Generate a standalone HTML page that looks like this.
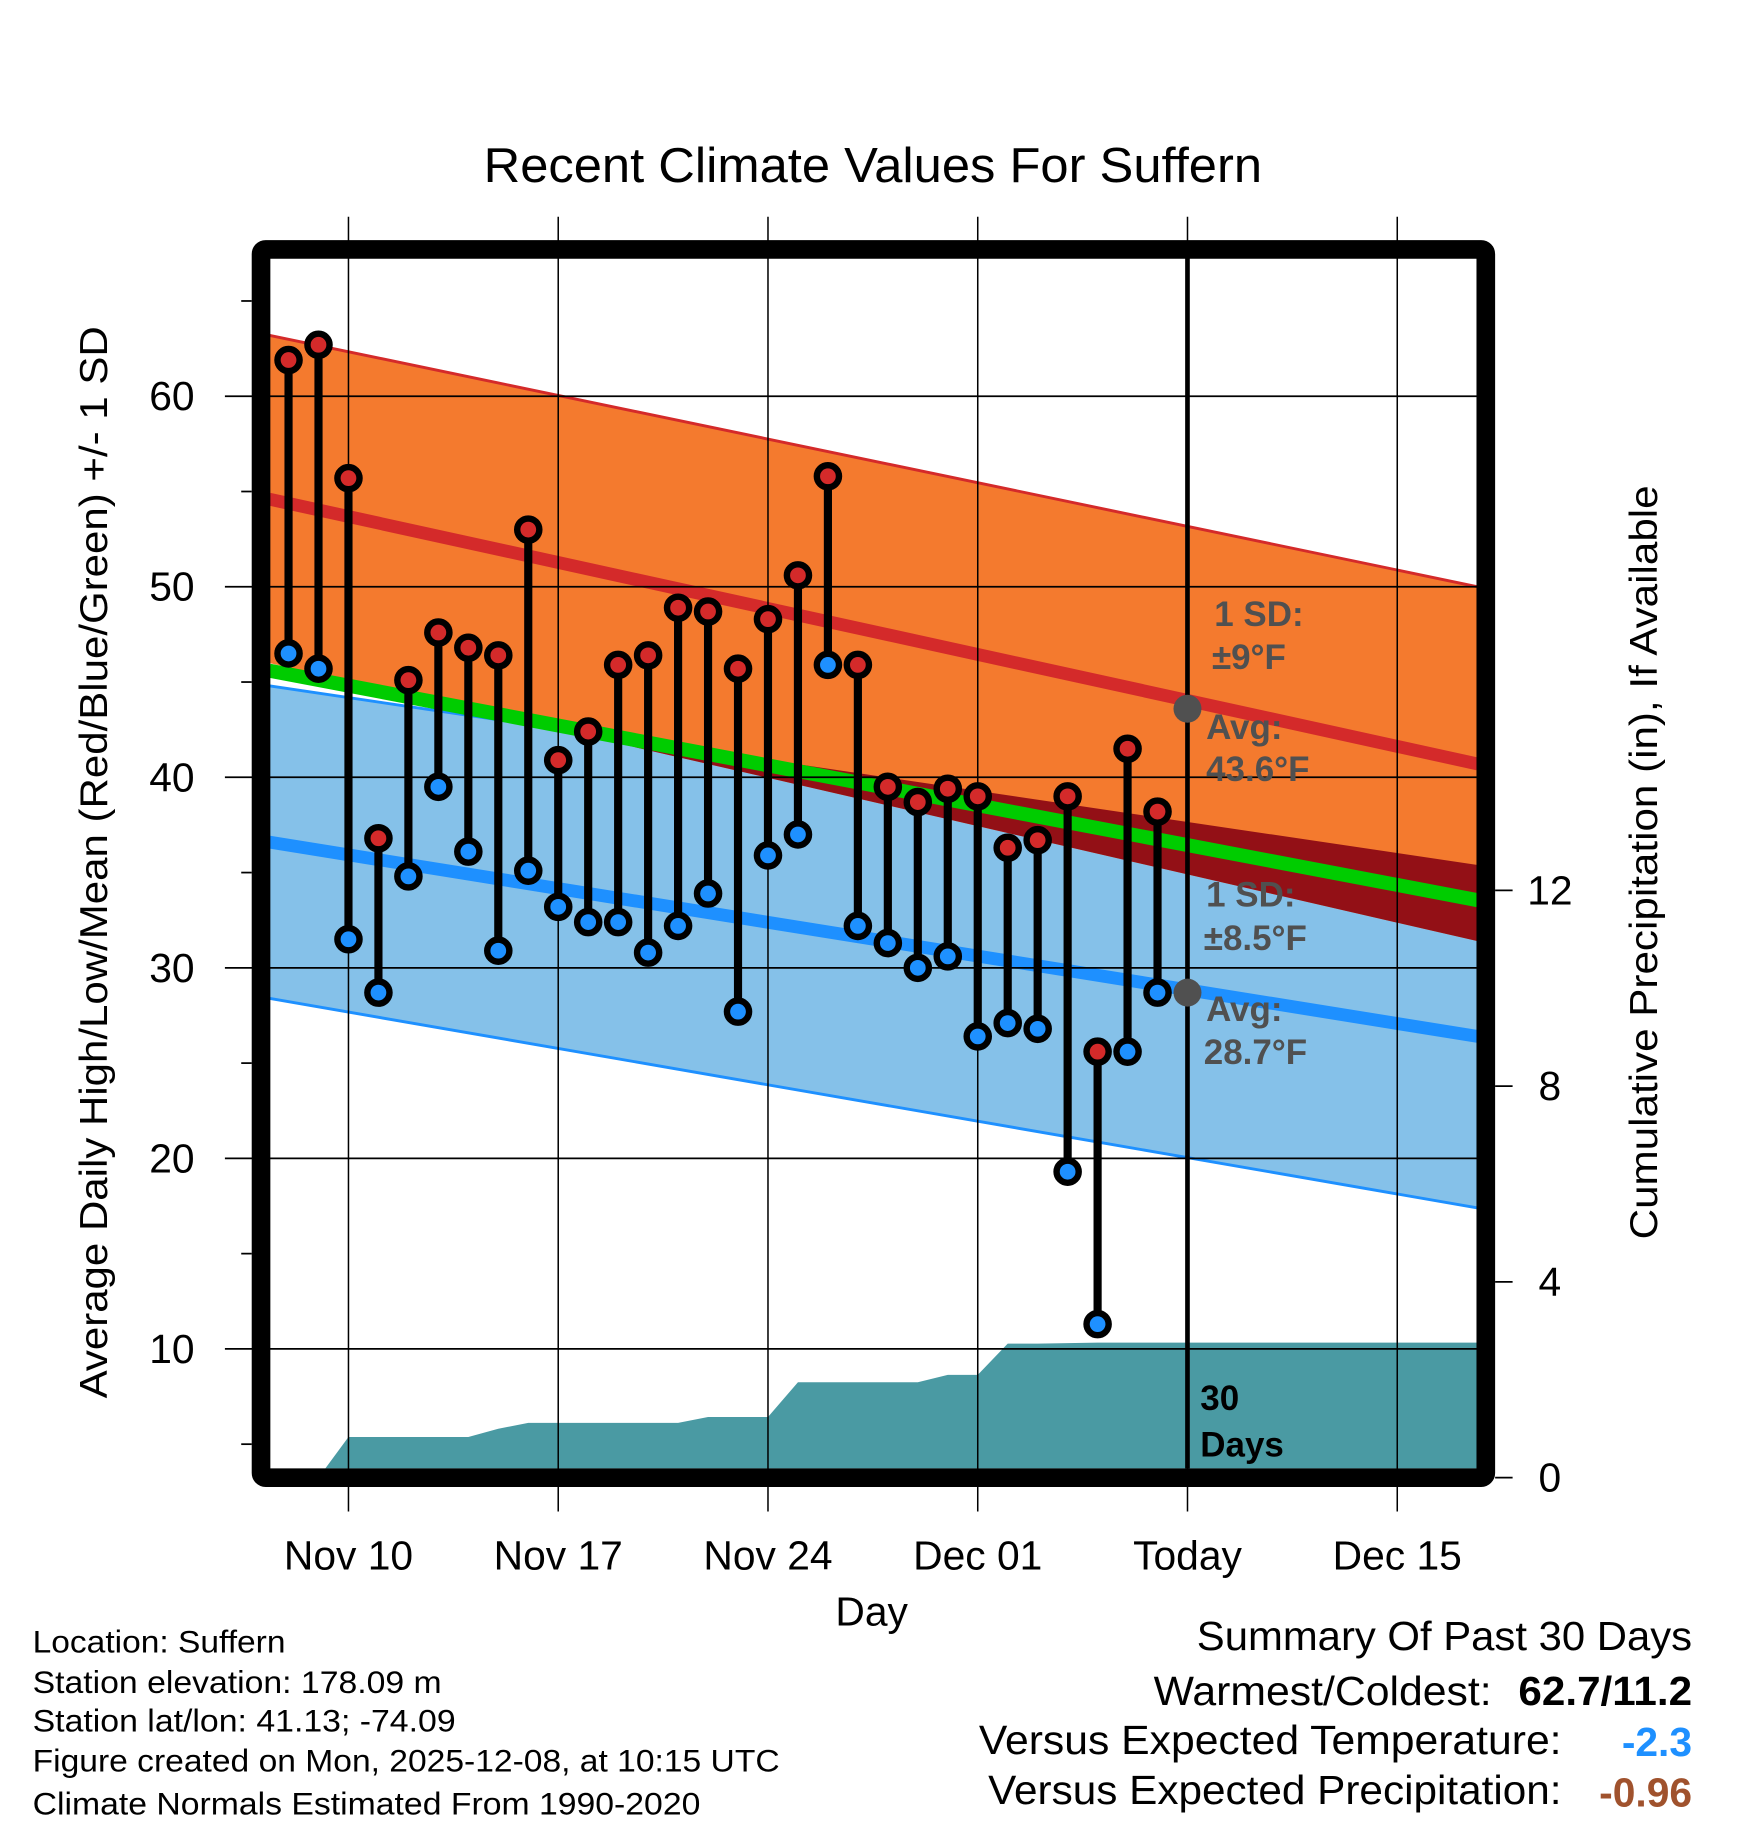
<!DOCTYPE html>
<html><head><meta charset="utf-8"><style>
html,body{margin:0;padding:0;background:#fff;}
svg{display:block;font-family:"Liberation Sans",Arial,sans-serif;}
</style></head><body>
<svg id="chart" width="1748" height="1828" viewBox="0 0 1500 1568.6" xmlns="http://www.w3.org/2000/svg">
<defs>
<clipPath id="plotclip"><rect x="231" y="221" width="1037" height="1039"/></clipPath>
</defs>
<text x="749" y="156" font-size="42" text-anchor="middle" textLength="668" lengthAdjust="spacingAndGlyphs">Recent Climate Values For Suffern</text>
<g id="bands" clip-path="url(#plotclip)"></g>
<g id="grid"></g>
<g id="marks" clip-path="url(#plotclip)"></g>
<line x1="1019" y1="221" x2="1019" y2="1260" stroke="#000" stroke-width="4"/>
<g id="annot" font-weight="bold" font-size="30" fill="#505050"></g>
<rect x="224" y="214" width="1051" height="1054" rx="4" fill="none" stroke="#000" stroke-width="16"/>
<g id="axes" font-size="35"></g>
<text transform="translate(92,740) rotate(-90)" font-size="33" text-anchor="middle" textLength="920" lengthAdjust="spacingAndGlyphs">Average Daily High/Low/Mean (Red/Blue/Green) +/- 1 SD</text>
<text transform="translate(1422,740) rotate(-90)" font-size="33" text-anchor="middle" textLength="647" lengthAdjust="spacingAndGlyphs">Cumulative Precipitation (in), If Available</text>
<text x="748" y="1395" font-size="35" text-anchor="middle">Day</text>
<g font-size="27">
<text x="28" y="1418" textLength="217" lengthAdjust="spacingAndGlyphs">Location: Suffern</text>
<text x="28" y="1453" textLength="351" lengthAdjust="spacingAndGlyphs">Station elevation: 178.09 m</text>
<text x="28" y="1486" textLength="363" lengthAdjust="spacingAndGlyphs">Station lat/lon: 41.13; -74.09</text>
<text x="28" y="1520" textLength="641" lengthAdjust="spacingAndGlyphs">Figure created on Mon, 2025-12-08, at 10:15 UTC</text>
<text x="28" y="1557" textLength="573" lengthAdjust="spacingAndGlyphs">Climate Normals Estimated From 1990-2020</text>
</g>
<g font-size="35">
<text x="1452" y="1416" text-anchor="end" textLength="425" lengthAdjust="spacingAndGlyphs">Summary Of Past 30 Days</text>
<text x="1280" y="1463" text-anchor="end" textLength="290" lengthAdjust="spacingAndGlyphs">Warmest/Coldest:</text>
<text x="1452" y="1463" text-anchor="end" font-weight="bold" textLength="149" lengthAdjust="spacingAndGlyphs">62.7/11.2</text>
<text x="1340" y="1505" text-anchor="end" textLength="500" lengthAdjust="spacingAndGlyphs">Versus Expected Temperature:</text>
<text x="1452" y="1507" text-anchor="end" font-weight="bold" fill="#1e90ff">-2.3</text>
<text x="1340" y="1548" text-anchor="end" textLength="492" lengthAdjust="spacingAndGlyphs">Versus Expected Precipitation:</text>
<text x="1452" y="1550" text-anchor="end" font-weight="bold" fill="#a0522d">-0.96</text>
</g>
</svg>
<script>
const days = ["Nov 8","Nov 9","Nov 10","Nov 11","Nov 12","Nov 13","Nov 14","Nov 15","Nov 16","Nov 17","Nov 18","Nov 19","Nov 20","Nov 21","Nov 22","Nov 23","Nov 24","Nov 25","Nov 26","Nov 27","Nov 28","Nov 29","Nov 30","Dec 1","Dec 2","Dec 3","Dec 4","Dec 5","Dec 6","Dec 7"];
const highs = [61.9,62.7,55.7,36.8,45.1,47.6,46.8,46.4,53.0,40.9,42.4,45.9,46.4,48.9,48.7,45.7,48.3,50.6,55.8,45.9,39.5,38.7,39.4,39.0,36.3,36.7,39.0,25.6,41.5,38.2];
const lows = [46.5,45.7,31.5,28.7,34.8,39.5,36.1,30.9,35.1,33.2,32.4,32.4,30.8,32.2,33.9,27.7,35.9,37.0,45.9,32.2,31.3,30.0,30.6,26.4,27.1,26.8,19.3,11.3,25.6,28.7];
const precip = [0,0,0.83,0.83,0.83,0.83,0.83,1.0,1.12,1.12,1.12,1.12,1.12,1.12,1.24,1.24,1.24,1.95,1.95,1.95,1.95,1.95,2.1,2.1,2.74,2.74,2.75,2.76,2.76,2.76];
const normHighEnds = [54.6,40.7];
const normLowEnds = [36.6,26.4];
const sdHighEnds = [8.6,9.3];
const sdLowEnds = [8.2,9.0];
const xTickLabels = ["Nov 10","Nov 17","Nov 24","Dec 01","Today","Dec 15"];
const xTickDays = [2,9,16,23,30,37];
const yTicks = [10,20,30,40,50,60];
const y2Ticks = [0,4,8,12];

const NS="http://www.w3.org/2000/svg";
const X0=231,X1=1268;
function x(d){return 247.6+d*25.714;}
function y(v){return 340+(60-v)*16.35;}
function yp(v){return 1268-v*42;}
function mk(tag,attrs,parent){const e=document.createElementNS(NS,tag);for(const k in attrs)e.setAttribute(k,attrs[k]);parent.appendChild(e);return e;}
function nrm(ends,px){const t=(px-X0)/(X1-X0);return ends[0]+(ends[1]-ends[0])*t;}
function edge(ends,sd,sign,px){return nrm(ends,px)+sign*nrm(sd,px);}
const bands=document.getElementById('bands');
function bandPts(ends,sd){return `${X0},${y(edge(ends,sd,1,X0))} ${X1},${y(edge(ends,sd,1,X1))} ${X1},${y(edge(ends,sd,-1,X1))} ${X0},${y(edge(ends,sd,-1,X0))}`;}
let e=mk('polygon',{points:bandPts(normLowEnds,sdLowEnds),fill:'#85c1e9'},bands);


e=mk('line',{x1:X0,y1:y(edge(normLowEnds,sdLowEnds,-1,X0)),x2:X1,y2:y(edge(normLowEnds,sdLowEnds,-1,X1)),stroke:'#1e90ff','stroke-width':2.5},bands);


e=mk('line',{x1:X0,y1:y(edge(normLowEnds,sdLowEnds,1,X0)),x2:X1,y2:y(edge(normLowEnds,sdLowEnds,1,X1)),stroke:'#1e90ff','stroke-width':2.5},bands);


e=mk('polygon',{points:bandPts(normHighEnds,sdHighEnds),fill:'#f47a2e'},bands);


e=mk('line',{x1:X0,y1:y(edge(normHighEnds,sdHighEnds,1,X0)),x2:X1,y2:y(edge(normHighEnds,sdHighEnds,1,X1)),stroke:'#d42a2a','stroke-width':2.5},bands);


const cp=mk('clipPath',{id:'blueclip'},document.querySelector('defs'));
mk('polygon',{points:bandPts(normLowEnds,sdLowEnds)},cp);
e=mk('polygon',{points:bandPts(normHighEnds,sdHighEnds),fill:'#931016','clip-path':'url(#blueclip)'},bands);


e=mk('line',{x1:X0,y1:y(nrm(normHighEnds,X0)),x2:X1,y2:y(nrm(normHighEnds,X1)),stroke:'#d42a2a','stroke-width':11},bands);


e=mk('line',{x1:X0,y1:y(nrm(normLowEnds,X0)),x2:X1,y2:y(nrm(normLowEnds,X1)),stroke:'#1e90ff','stroke-width':11},bands);


e=mk('line',{x1:X0,y1:y((nrm(normHighEnds,X0)+nrm(normLowEnds,X0))/2),x2:X1,y2:y((nrm(normHighEnds,X1)+nrm(normLowEnds,X1))/2),stroke:'#00cc00','stroke-width':12},bands);


let pts=`${X0},${yp(0)} ${X0},${yp(precip[0])} `;
precip.forEach((p,i)=>{pts+=`${x(i)},${yp(p)} `;});
pts+=`${X1},${yp(precip[precip.length-1])} ${X1},${yp(0)}`;
e=mk('polygon',{points:pts,fill:'#4a9aa3'},bands);



const grid=document.getElementById('grid'),axes=document.getElementById('axes');
xTickDays.forEach((d,i)=>{
  let g=mk('line',{x1:x(d),y1:186,x2:x(d),y2:1297,stroke:'#000','stroke-width':1.3},grid);
  
  
  let t=mk('text',{x:x(d),y:1347,'text-anchor':'middle'},axes);
  t.textContent=xTickLabels[i];
  
  
});
yTicks.forEach(v=>{
  let g=mk('line',{x1:193,y1:y(v),x2:1275,y2:y(v),stroke:'#000','stroke-width':1.5},grid);
  
  
  let t=mk('text',{x:167,y:y(v)+12,'text-anchor':'end'},axes);
  t.textContent=v;
  
  
});
for(let v=5;v<=65;v+=10){
  let g=mk('line',{x1:207,y1:y(v),x2:216,y2:y(v),stroke:'#000','stroke-width':1.5},grid);
  
  
}
y2Ticks.forEach(v=>{
  let g=mk('line',{x1:1283,y1:yp(v),x2:1298,y2:yp(v),stroke:'#000','stroke-width':1.5},grid);
  
  
  let t=mk('text',{x:1330,y:yp(v)+12,'text-anchor':'middle'},axes);
  t.textContent=v;
  
  
});

const marks=document.getElementById('marks');
highs.forEach((h,i)=>{
  let s=mk('line',{x1:x(i),y1:y(h),x2:x(i),y2:y(lows[i]),stroke:'#000','stroke-width':7},marks);
  
  
});
highs.forEach((h,i)=>{
  let c=mk('circle',{cx:x(i),cy:y(h),r:9.5,fill:'#d42a2a',stroke:'#000','stroke-width':5.5},marks);
  
  
  let c2=mk('circle',{cx:x(i),cy:y(lows[i]),r:9.5,fill:'#1e90ff',stroke:'#000','stroke-width':5.5},marks);
  
  
});

const an=document.getElementById('annot');
const tx=1019;
let gd=mk('circle',{cx:tx,cy:y(43.6),r:12,fill:'#505050'},an);


gd=mk('circle',{cx:tx,cy:y(28.7),r:12,fill:'#505050'},an);


const labels=[[1042,537,"1 SD:"],[1040,574,"±9°F"],[1035,634,"Avg:"],[1035,670,"43.6°F"],[1035,778,"1 SD:"],[1033,815,"±8.5°F"],[1035,876,"Avg:"],[1033,913,"28.7°F"]];
labels.forEach(l=>{
  let t=mk('text',{x:l[0],y:l[1]},an);
  t.textContent=l[2];
  
  
});
let t=mk('text',{x:1030,y:1210,fill:'#000'},an);
t.textContent="30";


t=mk('text',{x:1030,y:1250,fill:'#000'},an);
t.textContent="Days";


</script>
</body></html>
